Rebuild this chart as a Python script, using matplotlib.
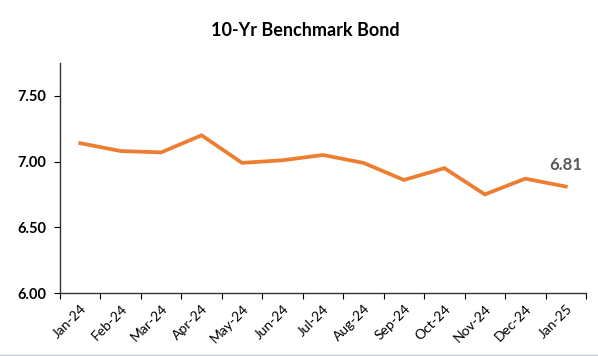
import matplotlib.pyplot as plt
import numpy as np

months = ["Jan-24", "Feb-24", "Mar-24", "Apr-24", "May-24", "Jun-24", "Jul-24",
          "Aug-24", "Sep-24", "Oct-24", "Nov-24", "Dec-24", "Jan-25"]
yields = [7.14, 7.08, 7.07, 7.20, 6.99, 7.01, 7.05, 6.99, 6.86, 6.95, 6.75, 6.87, 6.81]
y_ticks = [6.00, 6.50, 7.00, 7.50]

plt.rcParams["font.family"] = ["Lato", "DejaVu Sans"]

fig = plt.figure(figsize=(5.98, 3.56), dpi=100)
ax = fig.add_axes([60 / 598, 63 / 356, 526 / 598, 230 / 356])

x = np.arange(len(months))
ax.plot(x, yields, color="#ED7D31", linewidth=2.7, solid_joinstyle="miter")

# label on the last point
ax.annotate(f"{yields[-1]:.2f}", (x[-1], yields[-1]), xytext=(0, 10),
            textcoords="offset points", ha="center", va="bottom",
            fontsize=12, fontweight="bold", color="#595959")

ax.set_xlim(-0.5, len(months) - 0.5)
ax.set_ylim(6.0, 7.75)

# ticks between categories, labels in the middle
ax.set_xticks(np.arange(len(months) + 1) - 0.5)
ax.set_xticklabels([])
ax.set_xticks(x, minor=True)
ax.set_xticklabels(months, minor=True, rotation=45, ha="right",
                   rotation_mode="anchor", fontsize=10)
ax.tick_params(axis="x", which="major", length=4, direction="out")
ax.tick_params(axis="x", which="minor", length=0, pad=7)

ax.set_yticks(y_ticks)
ax.set_yticklabels([f"{v:.2f}" for v in y_ticks], fontsize=10.5, fontweight="bold")
ax.tick_params(axis="y", length=4, direction="out", pad=6)

for side in ["top", "right"]:
    ax.spines[side].set_visible(False)
for side in ["left", "bottom"]:
    ax.spines[side].set_color("#333333")
    ax.spines[side].set_linewidth(1.0)

fig.text(305 / 598, 1 - 30 / 356, "10-Yr Benchmark Bond", ha="center", va="center",
         fontsize=13, fontweight="bold")

# thin frame line at the bottom edge
fig.add_artist(plt.Line2D([0, 1], [0.004, 0.004], color="#c8c8dc", linewidth=1.0))

fig.savefig("out.png", dpi=100)
